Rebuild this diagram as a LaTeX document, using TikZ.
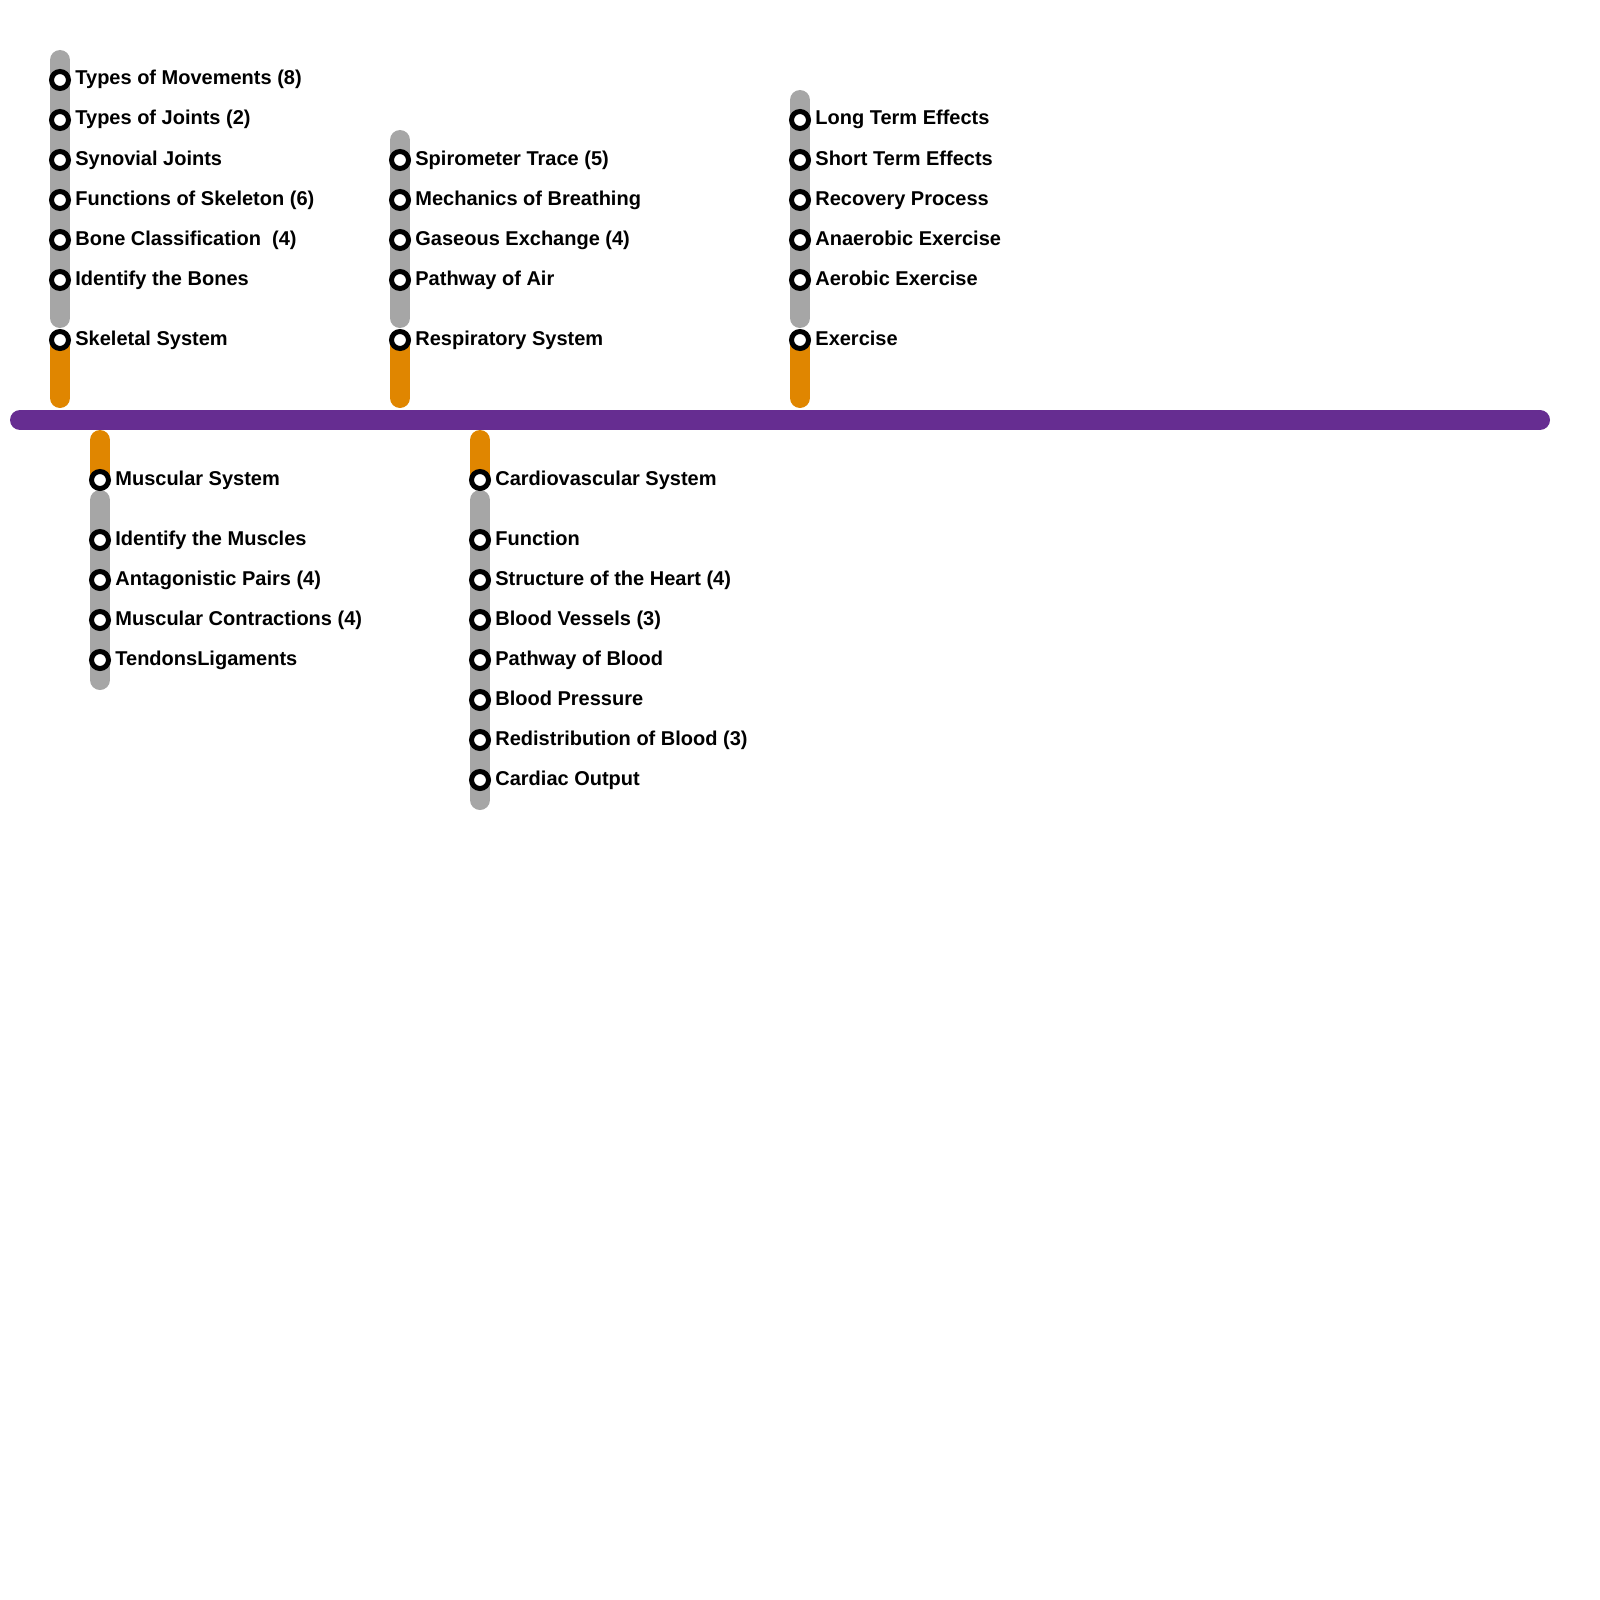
\documentclass[tikz,border=0pt]{standalone}
\usepackage{fontspec}
\setmainfont{Liberation Sans}
\usepackage{xcolor}
\usetikzlibrary{positioning}
\definecolor{trunkpurple}{HTML}{662D91}
\definecolor{branchorange}{HTML}{E08600}
\definecolor{spurgray}{HTML}{A6A6A6}

\tikzset{
  trunk/.style={draw=trunkpurple, line width=10pt, line cap=round},
  branch/.style={draw=branchorange, line width=10pt, line cap=round},
  spur/.style={draw=spurgray, line width=10pt, line cap=round},
  stop/.style={circle, draw=black, fill=white, line width=2.5pt, inner sep=0pt, minimum size=8.5pt},
  stoptext/.style={anchor=base west, inner sep=0pt, font=\bfseries\fontsize{10}{12}\selectfont},
}

\begin{document}
\begin{tikzpicture}[x=0.5pt, y=-0.5pt]
    \useasboundingbox (0,0) rectangle (1600,1600);

    % main line
    \coordinate (west) at (20,420);
    \coordinate (east) at (1540,420);
    \draw[trunk] (west) -- (east);

    % skeletal system
    \coordinate (skel) at (60,340);
    \coordinate (skel-foot) at (60,398);
    \coordinate (skel-top) at (60,60);
    \coordinate (skel-end) at (60,318);
    \draw[branch] (skel) -- (skel-foot);
    \draw[spur] (skel-top) -- (skel-end);
    \node[stop] (skel-hub) at (skel) {};
    \node[stoptext] at ([shift={(15,5)}]skel-hub.center) {Skeletal System};
    \foreach \yy/\txt [count=\i] in {80/Types of Movements (8), 120/Types of Joints (2),
        160/Synovial Joints, 200/Functions of Skeleton (6),
        240/Bone Classification\ \ (4), 280/Identify the Bones}{
      \node[stop] (skel-\i) at (60,\yy) {};
      \node[stoptext] at ([shift={(15,5)}]skel-\i.center) {\txt};
    }

    % respiratory system
    \coordinate (resp) at (400,340);
    \coordinate (resp-foot) at (400,398);
    \coordinate (resp-top) at (400,140);
    \coordinate (resp-end) at (400,318);
    \draw[branch] (resp) -- (resp-foot);
    \draw[spur] (resp-top) -- (resp-end);
    \node[stop] (resp-hub) at (resp) {};
    \node[stoptext] at ([shift={(15,5)}]resp-hub.center) {Respiratory System};
    \foreach \yy/\txt [count=\i] in {160/Spirometer Trace (5), 200/Mechanics of Breathing,
        240/Gaseous Exchange (4), 280/Pathway of Air}{
      \node[stop] (resp-\i) at (400,\yy) {};
      \node[stoptext] at ([shift={(15,5)}]resp-\i.center) {\txt};
    }

    % exercise
    \coordinate (exer) at (800,340);
    \coordinate (exer-foot) at (800,398);
    \coordinate (exer-top) at (800,100);
    \coordinate (exer-end) at (800,318);
    \draw[branch] (exer) -- (exer-foot);
    \draw[spur] (exer-top) -- (exer-end);
    \node[stop] (exer-hub) at (exer) {};
    \node[stoptext] at ([shift={(15,5)}]exer-hub.center) {Exercise};
    \foreach \yy/\txt [count=\i] in {120/Long Term Effects, 160/Short Term Effects,
        200/Recovery Process, 240/Anaerobic Exercise, 280/Aerobic Exercise}{
      \node[stop] (exer-\i) at (800,\yy) {};
      \node[stoptext] at ([shift={(15,5)}]exer-\i.center) {\txt};
    }

    % muscular system
    \coordinate (musc) at (100,480);
    \coordinate (musc-foot) at (100,440);
    \coordinate (musc-top) at (100,500);
    \coordinate (musc-end) at (100,680);
    \draw[branch] (musc-foot) -- (musc);
    \draw[spur] (musc-top) -- (musc-end);
    \node[stop] (musc-hub) at (musc) {};
    \node[stoptext] at ([shift={(15,5)}]musc-hub.center) {Muscular System};
    \foreach \yy/\txt [count=\i] in {540/Identify the Muscles, 580/Antagonistic Pairs (4),
        620/Muscular Contractions (4), 660/TendonsLigaments}{
      \node[stop] (musc-\i) at (100,\yy) {};
      \node[stoptext] at ([shift={(15,5)}]musc-\i.center) {\txt};
    }

    % cardiovascular system
    \coordinate (card) at (480,480);
    \coordinate (card-foot) at (480,440);
    \coordinate (card-top) at (480,500);
    \coordinate (card-end) at (480,800);
    \draw[branch] (card-foot) -- (card);
    \draw[spur] (card-top) -- (card-end);
    \node[stop] (card-hub) at (card) {};
    \node[stoptext] at ([shift={(15,5)}]card-hub.center) {Cardiovascular System};
    \foreach \yy/\txt [count=\i] in {540/Function, 580/Structure of the Heart (4),
        620/Blood Vessels (3), 660/Pathway of Blood, 700/Blood Pressure,
        740/Redistribution of Blood (3), 780/Cardiac Output}{
      \node[stop] (card-\i) at (480,\yy) {};
      \node[stoptext] at ([shift={(15,5)}]card-\i.center) {\txt};
    }
\end{tikzpicture}
\end{document}
